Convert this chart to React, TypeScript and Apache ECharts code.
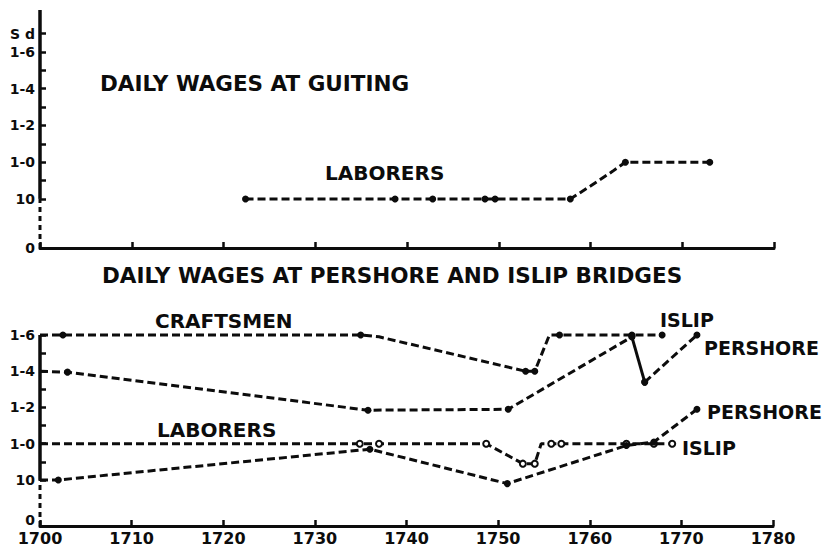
import React, { useEffect, useRef } from "react";
import * as echarts from "echarts";

// ---------- axis definitions ----------
const yearMin = 1700;
const yearMax = 1780;
const yearStep = 10;

// wages in pence; labels in shillings-pence notation
const penceTicks = [10, 12, 14, 16, 18];
const penceTickLabels = ["10", "1-0", "1-2", "1-4", "1-6"];
const minorPenceTicks = [11, 13, 15, 17];
const unitTickPence = 19;
const unitTickLabel = "S d";
const zeroLabel = "0";

// ---------- data (year, pence) ----------
// Guiting, laborers
const guitingYears = [1722.4, 1738.7, 1742.8, 1748.5, 1749.6, 1757.8, 1760, 1762.4, 1763.8, 1773];
const guitingPence = [10, 10, 10, 10, 10, 10, 10.7, 11.5, 12, 12];
const guitingDots = [1, 1, 1, 1, 1, 1, 0, 0, 1, 1];

// Islip, craftsmen
const islipCraftYears = [1700, 1702.5, 1735, 1737, 1753, 1754, 1755.6, 1756.7, 1764.6, 1767.9];
const islipCraftPence = [18, 18, 18, 17.9, 16, 16, 18, 18, 18, 18];
const islipCraftDots = [0, 1, 1, 0, 1, 1, 0, 1, 1, 1];

// Pershore, craftsmen (the drop after 1764.6 is drawn solid)
const pershoreCraftYears = [1700, 1703, 1735.8, 1751.1, 1764.6, 1766, 1771.7];
const pershoreCraftPence = [16, 15.95, 13.85, 13.9, 17.9, 15.4, 18];
const pershoreCraftDots = [0, 1, 1, 1, 1, 1, 1];
const pershoreCraftSolidFrom = 4;

// Islip, laborers
const islipLabYears = [1700, 1734.9, 1737, 1748.7, 1752.7, 1754, 1754.7, 1755.8, 1756.9, 1764, 1767, 1769];
const islipLabPence = [12, 12, 12, 12, 10.9, 10.9, 12, 12, 12, 12, 12, 12];
const islipLabDots = [0, 1, 1, 1, 1, 1, 0, 1, 1, 1, 1, 1];

// Pershore, laborers
const pershoreLabYears = [1700, 1702, 1736, 1751, 1764, 1767, 1771.7];
const pershoreLabPence = [10, 10, 11.7, 9.8, 11.9, 12.1, 13.9];
const pershoreLabDots = [0, 1, 1, 1, 1, 1, 1];

// ---------- texts ----------
const titleTop = "DAILY WAGES AT GUITING";
const titleBottom = "DAILY WAGES AT PERSHORE AND ISLIP BRIDGES";
const labLabel = "LABORERS";
const craftLabel = "CRAFTSMEN";
const islipLabel = "ISLIP";
const pershoreLabel = "PERSHORE";

// ---------- layout / style ----------
const FONT = '"DejaVu Sans", "Liberation Sans", sans-serif';
const INK = "#0c0c0c";
const GAP_TOP = 2.67; // broken-axis span between 0 and 10d
const GAP_BOTTOM = 2.54;
const MAX_TOP = 12.95;
const MAX_BOTTOM = GAP_BOTTOM + 8;
const DASH = [8, 4];

const toAxis = (p: number, gap: number) => (p <= 0 ? 0 : gap + (p - 10));

function yAxisFor(idx: number, gap: number, max: number, withUnit: boolean, liftZero: boolean) {
  const labelVals = [0, ...penceTicks.map((p) => toAxis(p, gap))];
  if (withUnit) labelVals.push(toAxis(unitTickPence, gap));
  const tickPence = [...penceTicks, ...minorPenceTicks];
  if (withUnit) tickPence.push(unitTickPence);
  return {
    type: "value",
    gridIndex: idx,
    min: 0,
    max,
    axisLine: { show: false },
    splitLine: { show: false },
    axisTick: {
      show: true,
      inside: true,
      length: 6,
      customValues: tickPence.map((p) => toAxis(p, gap)),
      lineStyle: { color: INK, width: 2.5 },
    },
    axisLabel: {
      show: true,
      customValues: labelVals,
      margin: 5,
      color: INK,
      fontFamily: FONT,
      fontWeight: "bold",
      fontSize: 14,
      rich: {
        z: {
          fontFamily: FONT,
          fontWeight: "bold",
          fontSize: 14,
          color: INK,
          padding: liftZero ? [0, 0, 12, 0] : [0, 0, 0, 0],
        },
      },
      formatter: (v: number) => {
        if (Math.abs(v) < 1e-6) return `{z|${zeroLabel}}`;
        for (let i = 0; i < penceTicks.length; i++) {
          if (Math.abs(toAxis(penceTicks[i], gap) - v) < 1e-4) return penceTickLabels[i];
        }
        if (withUnit && Math.abs(toAxis(unitTickPence, gap) - v) < 1e-4) return unitTickLabel;
        return "";
      },
    },
  };
}

function xAxisFor(idx: number, showLabels: boolean) {
  return {
    type: "value",
    gridIndex: idx,
    min: yearMin,
    max: yearMax,
    interval: yearStep,
    axisLine: { show: true, onZero: false, lineStyle: { color: INK, width: 3 } },
    axisTick: { show: true, inside: true, length: 6, lineStyle: { color: INK, width: 2.5 } },
    splitLine: { show: false },
    axisLabel: {
      show: showLabels,
      margin: 4,
      color: INK,
      fontFamily: FONT,
      fontWeight: "bold",
      fontSize: 16,
      formatter: (v: number) => String(v),
    },
  };
}

function points(years: number[], pence: number[], dots: number[], gap: number) {
  return years.map((y, i) => ({
    value: [y, toAxis(pence[i], gap)],
    symbol: dots[i] ? undefined : "none",
  }));
}

function dataSeries(name: string, idx: number, data: any[], symbol: string, dashed = true) {
  const empty = symbol === "emptyCircle";
  return {
    name,
    type: "line",
    xAxisIndex: idx,
    yAxisIndex: idx,
    data,
    symbol,
    symbolSize: empty ? 6 : 7,
    showSymbol: true,
    connectNulls: false,
    clip: false,
    silent: true,
    color: INK,
    lineStyle: { color: INK, width: 3, type: dashed ? DASH : "solid" },
    itemStyle: { color: INK, borderColor: INK, borderWidth: empty ? 2 : 0 },
    z: 3,
  };
}

function axisLineSeries(idx: number, gap: number, max: number) {
  return [
    {
      type: "line",
      xAxisIndex: idx,
      yAxisIndex: idx,
      data: [
        [yearMin, 0],
        [yearMin, gap],
      ],
      symbol: "none",
      clip: false,
      silent: true,
      lineStyle: { color: INK, width: 3, type: [5, 4] },
    },
    {
      type: "line",
      xAxisIndex: idx,
      yAxisIndex: idx,
      data: [
        [yearMin, gap],
        [yearMin, max],
      ],
      symbol: "none",
      clip: false,
      silent: true,
      lineStyle: { color: INK, width: 3.5 },
    },
  ];
}

function buildOption() {
  const pc = points(pershoreCraftYears, pershoreCraftPence, pershoreCraftDots, GAP_BOTTOM);
  const s = pershoreCraftSolidFrom;
  const pcDashed = [...pc.slice(0, s + 1), { value: [null, null], symbol: "none" }, ...pc.slice(s + 1)];
  const pcSolid = pc.slice(s, s + 2);

  const text = (t: string, x: number, y: number, size: number) => ({
    type: "text",
    x,
    y,
    silent: true,
    style: {
      text: t,
      fill: INK,
      font: `bold ${size}px ${FONT}`,
      align: "left",
      verticalAlign: "middle",
    },
  });

  return {
    animation: false,
    backgroundColor: "#ffffff",
    grid: [
      { left: 40, right: 50, top: 10, height: 238 },
      { left: 40, right: 51, top: 335, height: 191 },
    ],
    xAxis: [xAxisFor(0, false), xAxisFor(1, true)],
    yAxis: [
      yAxisFor(0, GAP_TOP, MAX_TOP, true, false),
      yAxisFor(1, GAP_BOTTOM, MAX_BOTTOM, false, true),
    ],
    series: [
      ...axisLineSeries(0, GAP_TOP, MAX_TOP),
      ...axisLineSeries(1, GAP_BOTTOM, MAX_BOTTOM),
      dataSeries("Guiting laborers", 0, points(guitingYears, guitingPence, guitingDots, GAP_TOP), "circle"),
      dataSeries("Islip craftsmen", 1, points(islipCraftYears, islipCraftPence, islipCraftDots, GAP_BOTTOM), "circle"),
      dataSeries("Pershore craftsmen", 1, pcDashed, "circle"),
      dataSeries("Pershore craftsmen drop", 1, pcSolid, "circle", false),
      dataSeries("Islip laborers", 1, points(islipLabYears, islipLabPence, islipLabDots, GAP_BOTTOM), "emptyCircle"),
      dataSeries("Pershore laborers", 1, points(pershoreLabYears, pershoreLabPence, pershoreLabDots, GAP_BOTTOM), "circle"),
    ],
    graphic: [
      text(titleTop, 100, 83, 21.5),
      text(labLabel, 325, 173, 20),
      text(titleBottom, 102, 275, 21.5),
      text(craftLabel, 155, 321, 20),
      text(labLabel, 157, 430, 20),
      text(islipLabel, 660, 320, 19),
      text(pershoreLabel, 704, 348, 19),
      text(pershoreLabel, 707, 412, 19),
      text(islipLabel, 682, 448, 19),
    ],
  };
}

export default function App() {
  const ref = useRef<HTMLDivElement>(null);
  useEffect(() => {
    document.body.style.margin = "0";
    const chart = echarts.init(ref.current as HTMLDivElement, null, { renderer: "svg" });
    chart.setOption(buildOption() as any);
    return () => chart.dispose();
  }, []);
  return (
    <div
      ref={ref}
      style={{ position: "absolute", left: 0, top: 0, width: 824, height: 550, background: "#fff" }}
    />
  );
}
